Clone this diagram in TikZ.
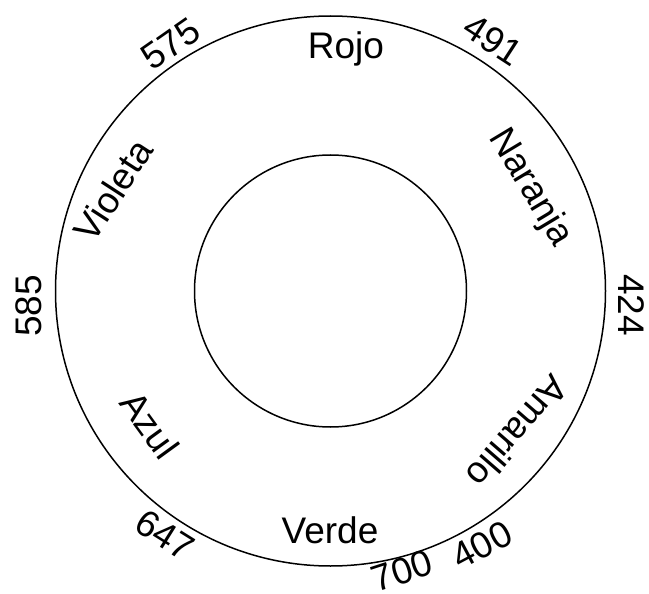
\documentclass[tikz,border=0pt]{standalone}
\usepackage{fontspec}
\setmainfont{Liberation Sans}
\begin{document}
\begin{tikzpicture}[x=1pt,y=-1pt,
  lbl/.style={font=\fontsize{37}{40}\selectfont, inner sep=0pt},
  ring/.style={draw=black, line width=1.5pt}]
\useasboundingbox (0,0) rectangle (649,594);
\coordinate (c) at (330.5,291);
\draw[ring] (c) circle[radius=275pt];
\draw[ring] (c) circle[radius=136pt];
% colour names
\node[lbl] (rojo) at (346,49) {Rojo};
\node[lbl, rotate=-59] (naranja) at (530,188) {Naranja};
\node[lbl, rotate=-131] (amarillo) at (518,432) {Amarillo};
\node[lbl] (verde) at (330,530) {Verde};
\node[lbl, rotate=-54] (azul) at (150,425) {Azul};
\node[lbl, rotate=57] (violeta) at (113,190) {Violeta};
% numbers
\node[lbl, rotate=35] (n575) at (171,44) {575};
\node[lbl, rotate=-33] (n491) at (493,40) {491};
\node[lbl, rotate=-90] (n424) at (631,305) {424};
\node[lbl, rotate=28] (n400) at (482,545) {400};
\node[lbl, rotate=18] (n700) at (402,571) {700};
\node[lbl, rotate=-32] (n647) at (165,535) {647};
\node[lbl, rotate=90] (n585) at (29,306) {585};
\end{tikzpicture}
\end{document}
